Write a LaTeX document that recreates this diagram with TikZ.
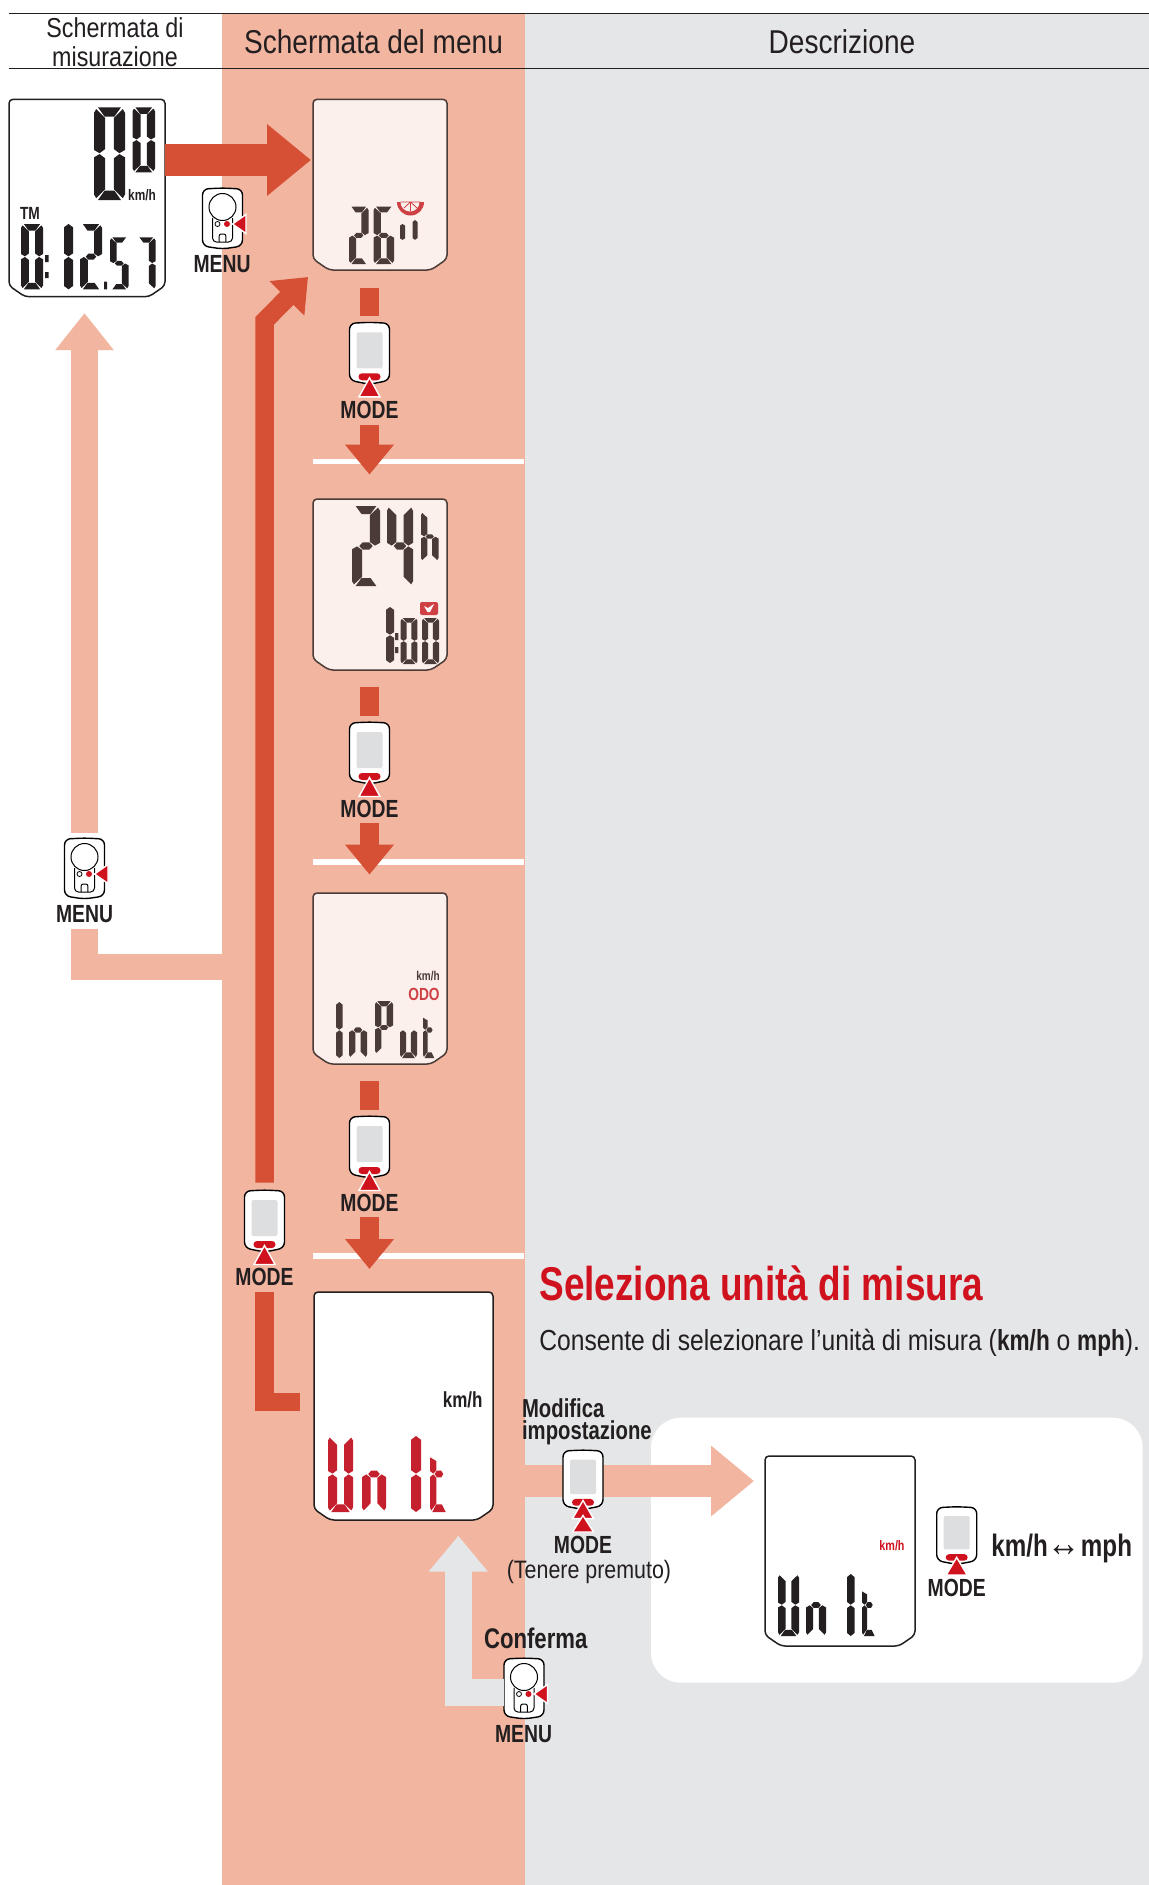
\documentclass[tikz,border=0pt]{standalone}
\usepackage{fontspec}
\setmainfont{Liberation Sans}[FakeStretch=0.85,BoldFeatures={FakeStretch=0.78}]
\usetikzlibrary{arrows.meta}

\definecolor{ink}{HTML}{231F20}
\definecolor{scrink}{HTML}{4A3B37}
\definecolor{peach}{HTML}{F2B5A0}
\definecolor{greybg}{HTML}{E5E6E8}
\definecolor{scrgrey}{HTML}{DDDEE0}
\definecolor{scrpale}{HTML}{FBF0EB}
\definecolor{arrowred}{HTML}{D55035}
\definecolor{btnred}{HTML}{D0121E}
\definecolor{lcdred}{HTML}{C4202E}
\definecolor{palered}{HTML}{CF4045}

% segmenti LCD
\def\segA{(.13,0)--(.87,0)--(.66,.1)--(.34,.1)--cycle}
\def\segB{(.93,.02)--(1,.06)--(1,.46)--(.82,.495)--(.64,.45)--(.64,.115)--cycle}
\def\segC{(.82,.505)--(1,.54)--(1,.94)--(.93,.98)--(.64,.885)--(.64,.55)--cycle}
\def\segD{(.34,.9)--(.66,.9)--(.87,1)--(.13,1)--cycle}
\def\segE{(.18,.505)--(0,.54)--(0,.94)--(.07,.98)--(.36,.885)--(.36,.55)--cycle}
\def\segF{(.07,.02)--(0,.06)--(0,.46)--(.18,.495)--(.36,.45)--(.36,.115)--cycle}
\def\segG{(.26,.5)--(.38,.455)--(.62,.455)--(.74,.5)--(.62,.545)--(.38,.545)--cycle}
\def\segK{(0,.28)--(.36,.33)--(.36,.45)--(.18,.495)--(0,.46)--cycle}
\def\segU{(.5,0)--(1,.05)--(1,.45)--(.5,.495)--(0,.45)--(0,.05)--cycle}
\def\segL{(.5,.505)--(1,.55)--(1,.95)--(.5,1)--(0,.95)--(0,.55)--cycle}
\def\segdraw#1#2{\fill[#2] #1;}

\newcommand{\lcd}[6]{%
\begin{scope}[shift={(#1,#2)},x=#3*0.5pt,y={-#4*0.5pt}]
\foreach \s in {#5} {\expandafter\segdraw\csname seg\s\endcsname{#6}}
\end{scope}}

% display: nome, x0, y0, x1, y1, linea, fondo
\newcommand{\screen}[7]{%
\draw[line width=0.75pt,draw=#6,fill=#7,rounded corners=2pt] (#2,#3) -- (#4,#3) -- (#4,{#5-11}) -- ({#4-16},#5) -- ({#2+16},#5) -- (#2,{#5-11}) -- cycle;
\node[inner sep=0pt,minimum width={(#4-#2)*0.5pt},minimum height={(#5-#3)*0.5pt}] (#1) at ({(#2+#4)/2},{(#3+#5)/2}) {};}

% ciclocomputer visto davanti: nome, centro x, y alto, base triangolo
\newcommand{\modeicon}[4]{%
\begin{scope}[shift={(#2,#3)}]
\draw[line width=0.7pt,fill=white,rounded corners=3pt] (-20,1) -- (0,0) -- (20,1) -- (20,58) -- (0,62) -- (-20,58) -- cycle;
\fill[scrgrey,rounded corners=1pt] (-13,10) rectangle (13,46);
\fill[btnred,rounded corners=1.7pt] (-11,51) rectangle (11,58);
\draw[white,line width=0.7pt,fill=btnred] (0,{#4-17.5}) -- (10.5,{#4+1.5}) -- (-10.5,{#4+1.5}) -- cycle;
\node[inner sep=0pt,minimum width=20pt,minimum height=31pt] (#1) at (0,31) {};
\end{scope}}

% ciclocomputer visto da dietro
\newcommand{\menuicon}[3]{%
\begin{scope}[shift={(#2,#3)}]
\draw[line width=0.7pt,fill=white,rounded corners=3pt] (-20,1) -- (0,0) -- (20,1) -- (20,58) -- (0,61) -- (-20,58) -- cycle;
\draw[line width=0.5pt,rounded corners=2pt] (-10,30) -- (-10,54) -- (10,54) -- (10,30);
\draw[line width=0.5pt,fill=white] (0,19) circle[radius=13.5];
\draw[line width=0.4pt] (-5,36) circle[radius=2.5];
\fill[btnred] (4.5,36) circle[radius=3];
\draw[line width=0.5pt,rounded corners=1pt] (-3.3,54) -- (-3.3,46) -- (3.3,46) -- (3.3,54);
\draw[white,line width=0.7pt,fill=btnred] (10,36) -- (23.5,26.5) -- (23.5,45.5) -- cycle;
\node[inner sep=0pt,minimum width=20pt,minimum height=30pt] (#1) at (0,30) {};
\end{scope}}

\tikzset{
every node/.style={text=ink},
bold lbl/.style={font=\bfseries\fontsize{12.4pt}{12.4pt}\selectfont},
head lbl/.style={font=\fontsize{16.5pt}{16.5pt}\selectfont},
redbar/.style={draw=arrowred,line width=9.25pt},
redtip/.style={redbar,-{Triangle[length=15pt,width=23.5pt]}},
palebar/.style={draw=peach,line width=13.25pt},
}

\begin{document}
\begin{tikzpicture}[x=0.5pt,y=-0.5pt]

\fill[white] (0,0) rectangle (1149,1885);
\useasboundingbox (0,0) rectangle (1149,1885);

% Sfondo
\fill[peach] (222,13.3) rectangle (525,1885);
\fill[greybg] (525,13.3) rectangle (1149,1885);
\draw[ink,line width=0.7pt] (8.5,13.3) -- (1149,13.3);
\draw[ink,line width=0.7pt] (8.5,68.3) -- (1149,68.3);
\foreach \y in {461.5,862,1256} {\draw[white,line width=2.75pt] (313,\y) -- (524,\y);}
\fill[white,rounded corners=15pt] (651,1417.7) rectangle (1142.7,1682.7);

% Intestazione
\node (hd1) at (115,42) [align=center,font=\fontsize{13.7pt}{14.7pt}\selectfont] {Schermata di\\misurazione};
\node (hd2) at (373.5,42) [head lbl] {Schermata del menu};
\node (hd3) at (842,42) [head lbl] {Descrizione};

% Display
\screen{s1}{9}{99.3}{165}{296.7}{ink}{white}
\screen{s2}{313}{99.3}{447}{270}{scrink}{scrpale}
\screen{s3}{313}{499}{447}{670}{scrink}{scrpale}
\screen{s4}{313}{893}{447}{1064}{scrink}{scrpale}
\screen{s5}{314}{1292}{493}{1520}{ink}{white}
\screen{s6}{765}{1456}{915}{1646}{ink}{white}

% Misurazione
\lcd{94}{107.3}{31}{92.7}{A,B,C,D,E,F}{ink}
\lcd{132.5}{107.3}{22.5}{65}{A,B,C,D,E,F}{ink}
\node (v1) at (142,195) [font=\bfseries\fontsize{7.6pt}{7.6pt}\selectfont] {km/h};
\node (tm) at (30,213) [font=\bfseries\fontsize{8.8pt}{8.8pt}\selectfont] {TM};
\lcd{21}{224}{22}{65.3}{A,B,C,D,E,F}{ink}
\fill[ink] (45,255) rectangle (48.5,262) (45,272) rectangle (48.5,278) (104,281.7) rectangle (107,289.3);
\lcd{64}{224}{9}{65.3}{U,L}{ink}
\lcd{80}{224}{22}{65.3}{A,B,G,E,D}{ink}
\lcd{110}{237.3}{18.5}{52}{A,F,G,C,D}{ink}
\lcd{137}{237.3}{18.5}{52}{A,B,C}{ink}

% Ruota
\lcd{349}{206.7}{19.5}{57.3}{A,B,G,E,D}{scrink}
\lcd{373.5}{206.7}{20.5}{57.3}{A,F,G,C,D,E}{scrink}
\lcd{400}{224}{5}{32}{U}{scrink}
\lcd{412.5}{220}{5}{40}{U}{scrink}
\fill[palered] (397,202) arc[start angle=180,end angle=0,radius=13.5] -- cycle;
\fill[scrpale] (400.5,202) arc[start angle=180,end angle=0,radius=9.5] -- cycle;
\draw[palered,line width=0.4pt] (400.5,202) -- (420.5,202) (410.5,202) -- (410.5,211) (410.5,202) -- (404,208) (410.5,202) -- (417,208);

% Orologio
\lcd{352}{506}{28}{80}{A,B,G,E,D}{scrink}
\lcd{387}{506}{26}{80}{F,G,B,C}{scrink}
\lcd{421}{512}{17.5}{49}{F,E,G,C}{scrink}
\fill[palered,rounded corners=1pt] (420,602) rectangle (438,615);
\fill[white] (424,606) -- (428,608) -- (434,604) -- (430,612) -- (427.5,612) -- cycle;
\lcd{386}{607}{8}{56}{U,L}{scrink}
\fill[scrink] (395,633) rectangle (398.3,640) (395,647) rectangle (398.3,653);
\lcd{400.7}{618}{16.7}{46}{A,B,C,D,E,F}{scrink}
\lcd{422}{618}{17}{46}{A,B,C,D,E,F}{scrink}

% Totale
\node (v4) at (428,976) [font=\bfseries\fontsize{6.4pt}{6.4pt}\selectfont,text=scrink] {km/h};
\node (odo) at (424,994) [font=\bfseries\fontsize{8.8pt}{8.8pt}\selectfont,text=palered] {ODO};
\lcd{336}{1002}{6.7}{56}{U,L}{scrink}
\lcd{349}{1002}{18}{56}{E,G,C}{scrink}
\lcd{375}{1001}{18}{53}{A,B,F,G,E}{scrink}
\lcd{400}{1002}{17}{56}{E,C,D}{scrink}
\lcd{423}{1002}{13}{56}{K,E,G,D}{scrink}

% Unita
\node (v5) at (462.7,1400) [font=\bfseries\fontsize{10.9pt}{10.9pt}\selectfont] {km/h};
\lcd{328}{1436}{25}{76}{F,E,D,C,B}{lcdred}
\lcd{362}{1436}{24}{76}{E,G,C}{lcdred}
\lcd{411}{1436}{10}{76}{U,L}{lcdred}
\lcd{430}{1436}{18}{76}{K,E,G,D}{lcdred}

\node (v6) at (892,1546) [font=\bfseries\fontsize{6.9pt}{6.9pt}\selectfont,text=btnred] {km/h};
\lcd{778}{1574}{21}{62}{F,E,D,C,B}{ink}
\lcd{806}{1574}{20}{62}{E,G,C}{ink}
\lcd{847}{1574}{7.5}{62}{U,L}{ink}
\lcd{862}{1574}{14.5}{62}{K,E,G,D}{ink}

% Frecce sotto i tasti
\coordinate (q1) at (525,1481);
\coordinate (q2) at (754,1481);
\draw[draw=peach,line width=16pt,-{Triangle[length=21.5pt,width=34pt]}] (q1) -- (q2);

% Tasti
\menuicon{m1}{222.5}{188}
\modeicon{b1}{369.5}{322.3}{73}
\modeicon{b2}{369.5}{722}{73}
\modeicon{b3}{369.5}{1116}{73}
\modeicon{b4}{264.5}{1190}{73}
\begin{scope}[shift={(0,1450)},yscale=.96]
\modeicon{b5}{583}{0}{70}
\end{scope}
\draw[white,line width=0.7pt,fill=btnred] (583,1515.5) -- (593.5,1532) -- (572.5,1532) -- cycle;
\menuicon{m2}{84.5}{838}
\menuicon{m3}{524}{1658}
\begin{scope}[shift={(0,1506.7)},yscale=.93]
\modeicon{b6}{956.7}{0}{72}
\end{scope}

\node (lm1) at (222,264.5) [bold lbl] {MENU};
\node (lb1) at (369.5,409.5) [bold lbl] {MODE};
\node (lb2) at (369.5,809) [bold lbl] {MODE};
\node (lb3) at (369.5,1203) [bold lbl] {MODE};
\node (lb4) at (264.5,1277) [bold lbl] {MODE};
\node (lb5) at (583,1545) [bold lbl] {MODE};
\node (lm2) at (84.5,914.5) [bold lbl] {MENU};
\node (lm3) at (523.5,1734) [bold lbl] {MENU};
\node (lb6) at (956.7,1588) [bold lbl] {MODE};

% Percorso
\coordinate (a1) at (165,160);
\coordinate (a2) at (311,160);
\draw[draw=arrowred,line width=16pt,-{Triangle[length=22pt,width=34.5pt]}] (a1) -- (a2);

\draw[redbar,shorten <=9pt,shorten >=3pt] (b1 |- s2.south) -- (b1.north);
\draw[redtip,shorten <=7.5pt,shorten >=12pt] (lb1.center) -- (lb1 |- s3.north);
\draw[redbar,shorten <=8.5pt,shorten >=3pt] (b2 |- s3.south) -- (b2.north);
\draw[redtip,shorten <=7pt,shorten >=9pt] (lb2.center) -- (lb2 |- s4.north);
\draw[redbar,shorten <=8.5pt,shorten >=3pt] (b3 |- s4.south) -- (b3.north);
\draw[redtip,shorten <=7pt,shorten >=11.3pt] (lb3.center) -- (lb3 |- s5.north);

\coordinate (t1) at (264.5,321);
\coordinate (t2) at (308,277);
\coordinate (f1) at (300,1402);
\coordinate (f2) at (264.5,1292);
\draw[redtip,shorten <=3.5pt] (b4.north) -- (t1) -- (t2);
\draw[redbar] (f1) -- (f1 -| f2) -- (f2);

\coordinate (p1) at (222,967);
\coordinate (p2) at (84.5,929);
\draw[palebar] (p1) -- (p1 -| p2) -- (p2);
\draw[palebar,-{Triangle[length=18.5pt,width=28pt]},shorten <=2.5pt,shorten >=8pt] (m2.north) -- (m2 |- s1.south);

\coordinate (g1) at (504,1692);
\coordinate (g2) at (458.3,1535.7);
\draw[draw=greybg,line width=13.5pt,-{Triangle[length=18pt,width=28.5pt]}] (g1) -- (g1 -| g2) -- (g2);

% Testi
\node (title) at (539,1283) [anchor=west,inner sep=0pt,text=btnred,font=\bfseries\fontsize{23.7pt}{23.7pt}\selectfont] {Seleziona unità di misura};
\node (desc) at (539,1342.5) [anchor=west,inner sep=0pt,font=\fontsize{14.5pt}{14.5pt}\selectfont] {Consente di selezionare l’unità di misura (\textbf{km/h} o \textbf{mph}).};
\node (mod) at (521.7,1422) [anchor=west,inner sep=0pt,align=left,font=\bfseries\fontsize{13pt}{11pt}\selectfont] {Modifica\\impostazione};
\node (hold) at (589,1571.7) [font=\fontsize{12.6pt}{12.6pt}\selectfont] {(Tenere premuto)};
\node (conf) at (535.7,1638) [font=\bfseries\fontsize{14.2pt}{14.2pt}\selectfont] {Conferma};
\node (unit) at (991,1548) [anchor=west,inner sep=0pt,font=\bfseries\fontsize{15.5pt}{15.5pt}\selectfont] {km/h{\mdseries\fontsize{19.5pt}{15.5pt}\selectfont ↔}mph};

\end{tikzpicture}
\end{document}
